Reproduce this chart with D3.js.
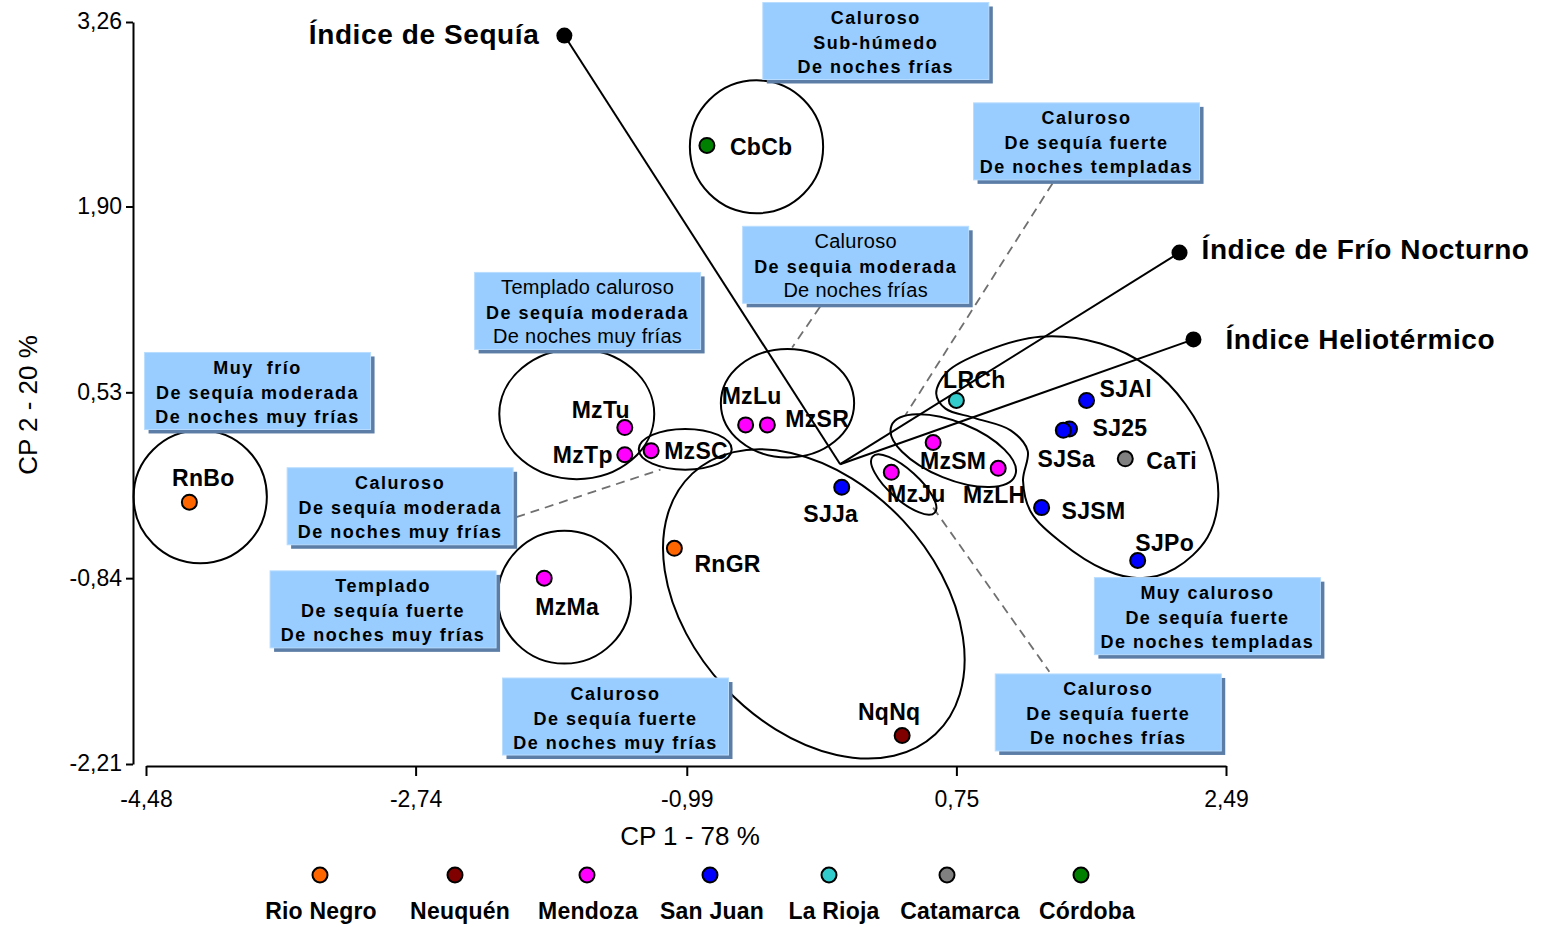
<!DOCTYPE html>
<html>
<head>
<meta charset="utf-8">
<script src="https://cdn.jsdelivr.net/npm/d3@7"></script>
<style>
  html, body { margin: 0; padding: 0; background: #ffffff; }
  svg { display: block; font-family: "Liberation Sans", Arial, sans-serif; }
</style>
</head>
<body>
<svg id="chart" width="1549" height="927"></svg>
<script>
// ---------------- DATA ----------------
const xTicks = [-4.48, -2.74, -0.99, 0.75, 2.49];
const yTicks = [-2.21, -0.84, 0.53, 1.90, 3.26];
const xTitle = "CP 1 - 78 %";
const yTitle = "CP 2 - 20 %";

const provinces = ["Rio Negro", "Neuquén", "Mendoza", "San Juan", "La Rioja", "Catamarca", "Córdoba"];
const provinceColors = ["#FF6600", "#800000", "#FF00FF", "#0000FF", "#33CCCC", "#808080", "#008000"];

const sites      = ["RnBo", "RnGR", "NqNq", "MzTu", "MzTp", "MzSC", "MzLu", "MzSR", "MzMa", "MzJu", "MzSM", "MzLH", "SJJa", "SJAl", "SJ25", "SJSa", "SJSM", "SJPo", "LRCh", "CaTi", "CbCb"];
const siteProv   = [0, 0, 1, 2, 2, 2, 2, 2, 2, 2, 2, 2, 3, 3, 3, 3, 3, 3, 4, 5, 6];
const cp1        = [-4.20, -1.07, 0.40, -1.39, -1.39, -1.22, -0.61, -0.47, -1.91, 0.33, 0.60, 1.02, 0.01, 1.59, 1.48, 1.44, 1.30, 1.92, 0.75, 1.84, -0.86];
const cp2        = [-0.28, -0.62, -2.00, 0.27, 0.07, 0.10, 0.29, 0.29, -0.84, -0.06, 0.16, -0.03, -0.17, 0.47, 0.26, 0.25, -0.32, -0.71, 0.47, 0.04, 2.35];

const vectorNames = ["Índice de Sequía", "Índice de Frío Nocturno", "Índice Heliotérmico"];
const vectorX     = [-1.78, 2.19, 2.28];
const vectorY     = [3.16, 1.56, 0.92];

// group outlines (annotation), centres and semi-axes in data units
const ellCx  = [-0.54, -4.13, -1.70, -1.00, -0.34, -1.78, -0.17, 0.41, 0.73];
const ellCy  = [2.34, -0.24, 0.37, 0.11, 0.45, -0.98, -1.03, -0.15, 0.10];
const ellA   = [0.43, 0.43, 0.50, 0.30, 0.43, 0.43, 1.15, 0.27, 0.43];
const ellB   = [0.49, 0.49, 0.48, 0.15, 0.40, 0.49, 0.90, 0.11, 0.21];
const ellRot = [0, 0, 0, 0, 0, 0, 47, 42, 22];

// San Juan / La Rioja / Catamarca outline (data units)
const sjOutlineX = [0.93, 1.29, 1.68, 2.00, 2.23, 2.39, 2.44, 2.37, 2.16, 1.94, 1.71, 1.42, 1.23, 1.18, 1.21, 1.10, 0.87, 0.68, 0.62, 0.69];
const sjOutlineY = [0.83, 0.94, 0.89, 0.71, 0.44, 0.09, -0.24, -0.54, -0.77, -0.84, -0.78, -0.57, -0.35, -0.12, 0.10, 0.25, 0.34, 0.41, 0.52, 0.68];

// classification boxes
const boxLines = [
  ["Caluroso", "Sub-húmedo", "De noches frías"],
  ["Caluroso", "De sequía fuerte", "De noches templadas"],
  ["Caluroso", "De sequia moderada", "De noches frías"],
  ["Templado caluroso", "De sequía moderada", "De noches muy frías"],
  ["Muy  frío", "De sequía moderada", "De noches muy frías"],
  ["Caluroso", "De sequía moderada", "De noches muy frías"],
  ["Templado", "De sequía fuerte", "De noches muy frías"],
  ["Caluroso", "De sequía fuerte", "De noches muy frías"],
  ["Muy caluroso", "De sequía fuerte", "De noches templadas"],
  ["Caluroso", "De sequía fuerte", "De noches frías"]
];
const boxBold = [
  [1,1,1],[1,1,1],[0,1,0],[0,1,0],[1,1,1],[1,1,1],[1,1,1],[1,1,1],[1,1,1],[1,1,1]
];
const boxCx = [0.23, 1.59, 0.10, -1.63, -3.76, -2.84, -2.95, -1.45, 2.37, 1.73];
const boxCy = [3.12, 2.38, 1.47, 1.13, 0.54, -0.31, -1.07, -1.86, -1.12, -1.83];

// dashed leader lines (data units)
const leaderX1 = [-2.09, -0.13, 1.37, 0.60];
const leaderY1 = [-0.39, 1.16, 2.07, -0.32];
const leaderX2 = [-1.16, -0.31, 0.42, 1.35];
const leaderY2 = [-0.04, 0.86, 0.36, -1.53];

// ---------------- LAYOUT ----------------
const W = 1549, H = 927;
const xL = 146, xR = 1226, yT = 22, yB = 764;
// label placement (pixels relative to the point): dx, dy, anchor
const labelLayout = [
  [14, -24, "middle"], [20, 16, "start"], [-13, -24, "middle"], [-24, -18, "middle"],
  [-12, 0, "end"], [13, 0, "start"], [6, -29, "middle"], [18, -6, "start"],
  [23, 29, "middle"], [25, 22, "middle"], [20, 18, "middle"], [-4, 27, "middle"],
  [-11, 27, "middle"], [13, -11, "start"], [23, -1, "start"], [3, 29, "middle"],
  [20, 3, "start"], [27, -18, "middle"], [18, -20, "middle"], [21, 2, "start"],
  [23, 2, "start"]
];
const vectorLayout = [[-25, -1, "end"], [22, -3, "start"], [32, 0, "start"]];
const legendMarkerX = [320, 455, 587, 710, 829, 947, 1081];
const legendLabelX  = [321, 460, 588, 712, 834, 960, 1087];

const svg = d3.select("#chart");
const x = d3.scaleLinear().domain([xTicks[0], xTicks[xTicks.length - 1]]).range([xL, xR]);
const y = d3.scaleLinear().domain([yTicks[0], yTicks[yTicks.length - 1]]).range([yB, yT]);
const fmt = v => d3.format(".2f")(v).replace(".", ",").replace("−", "-");

// ---------------- AXES ----------------
const xAxisY = yB + 2;
const yAxisX = xL - 13;

const gx = svg.append("g").attr("transform", `translate(0,${xAxisY})`)
  .call(d3.axisBottom(x).tickValues(xTicks).tickFormat(fmt).tickSize(10).tickPadding(10).tickSizeOuter(0));
const gy = svg.append("g").attr("transform", `translate(${yAxisX},0)`)
  .call(d3.axisLeft(y).tickValues(yTicks).tickFormat(fmt).tickSize(7).tickPadding(4).tickSizeOuter(0));
[gx, gy].forEach(g => {
  g.attr("font-family", null);
  g.select(".domain").attr("stroke", "#000").attr("stroke-width", 2);
  g.selectAll(".tick line").attr("stroke", "#000").attr("stroke-width", 2);
  g.selectAll(".tick text").attr("fill", "#000").style("font-size", "23px")
    .style("font-family", "\"Liberation Sans\", Arial, sans-serif");
});
gx.selectAll(".tick text").attr("dy", "0.9em");
gy.selectAll(".tick text").attr("dy", "0.3em");

svg.append("text").attr("x", (x(xTicks[0]) + x(xTicks[xTicks.length-1])) / 2 + 4).attr("y", 845)
  .attr("text-anchor", "middle").style("font-size", "26px").text(xTitle);
svg.append("text").attr("transform", `translate(37,${(yT + yB) / 2 + 12}) rotate(-90)`)
  .attr("text-anchor", "middle").style("font-size", "26px").text(yTitle);

// ---------------- LEADERS ----------------
svg.append("g").selectAll("line").data(leaderX1).join("line")
  .attr("x1", (d, i) => x(leaderX1[i])).attr("y1", (d, i) => y(leaderY1[i]))
  .attr("x2", (d, i) => x(leaderX2[i])).attr("y2", (d, i) => y(leaderY2[i]))
  .attr("stroke", "#707070").attr("stroke-width", 1.8).attr("stroke-dasharray", "9,6");

// ---------------- GROUP OUTLINES ----------------
const kx = x(1) - x(0), ky = y(0) - y(1);
const gOut = svg.append("g").attr("fill", "none").attr("stroke", "#000").attr("stroke-width", 2);
ellCx.forEach((c, i) => {
  gOut.append("ellipse")
    .attr("cx", 0).attr("cy", 0)
    .attr("rx", ellA[i] * kx).attr("ry", ellB[i] * ky)
    .attr("transform", `translate(${x(ellCx[i])},${y(ellCy[i])}) rotate(${ellRot[i]})`);
});
const sjPts = sjOutlineX.map((v, i) => [x(v), y(sjOutlineY[i])]);
gOut.append("path").attr("d", d3.line().curve(d3.curveCatmullRomClosed.alpha(0.5))(sjPts));

// ---------------- BIPLOT VECTORS ----------------
const gv = svg.append("g");
vectorNames.forEach((n, i) => {
  gv.append("line").attr("x1", x(0)).attr("y1", y(0)).attr("x2", x(vectorX[i])).attr("y2", y(vectorY[i]))
    .attr("stroke", "#000").attr("stroke-width", 2);
  gv.append("circle").attr("cx", x(vectorX[i])).attr("cy", y(vectorY[i])).attr("r", 8).attr("fill", "#000");
  const L = vectorLayout[i];
  gv.append("text").attr("x", x(vectorX[i]) + L[0]).attr("y", y(vectorY[i]) + L[1])
    .attr("text-anchor", L[2]).attr("dominant-baseline", "central")
    .style("font-size", "28px").style("font-weight", "bold").style("letter-spacing", "0.6px")
    .text(n);
});

// ---------------- BOXES ----------------
const bw = 226, bh = 77;
const gb = svg.append("g");
boxLines.forEach((lines, i) => {
  const cx = x(boxCx[i]), cy = y(boxCy[i]);
  gb.append("rect").attr("x", cx - bw / 2 + 4).attr("y", cy - bh / 2 + 4).attr("width", bw).attr("height", bh)
    .attr("fill", "#5C7EA6");
  gb.append("rect").attr("x", cx - bw / 2).attr("y", cy - bh / 2).attr("width", bw).attr("height", bh)
    .attr("fill", "#99CCFF").attr("stroke", "#B8DDFF").attr("stroke-width", 1);
  const offs = [-17, 8, 32];
  lines.forEach((t, j) => {
    const bold = boxBold[i][j] === 1;
    gb.append("text").attr("x", cx).attr("y", cy + offs[j])
      .attr("text-anchor", "middle")
      .style("font-size", bold ? "18px" : "20px")
      .style("font-weight", bold ? "bold" : "normal")
      .style("letter-spacing", bold ? "1.5px" : "0.3px")
      .style("white-space", "pre")
      .attr("fill", "#000")
      .text(t);
  });
});

// ---------------- POINTS ----------------
const gp = svg.append("g");
sites.forEach((s, i) => {
  gp.append("circle").attr("cx", x(cp1[i])).attr("cy", y(cp2[i])).attr("r", 7.5)
    .attr("fill", provinceColors[siteProv[i]]).attr("stroke", "#000").attr("stroke-width", 2);
});
sites.forEach((s, i) => {
  const L = labelLayout[i];
  gp.append("text").attr("x", x(cp1[i]) + L[0]).attr("y", y(cp2[i]) + L[1])
    .attr("text-anchor", L[2]).attr("dominant-baseline", "central")
    .style("font-size", "23px").style("font-weight", "bold").style("letter-spacing", "0.3px")
    .text(s);
});

// ---------------- LEGEND ----------------
const gl = svg.append("g");
provinces.forEach((p, i) => {
  gl.append("circle").attr("cx", legendMarkerX[i]).attr("cy", 875).attr("r", 7.5)
    .attr("fill", provinceColors[i]).attr("stroke", "#000").attr("stroke-width", 2);
  gl.append("text").attr("x", legendLabelX[i]).attr("y", 911).attr("text-anchor", "middle")
    .attr("dominant-baseline", "central")
    .style("font-size", "23px").style("font-weight", "bold").style("letter-spacing", "0.2px")
    .text(p);
});
</script>
</body>
</html>
